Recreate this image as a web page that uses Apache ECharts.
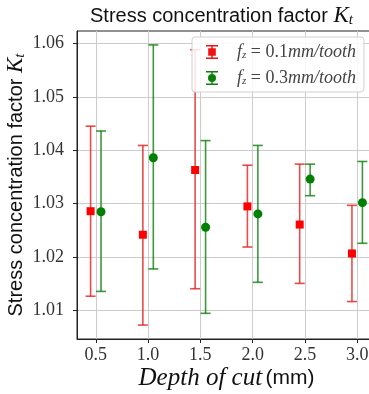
<!DOCTYPE html>
<html>
<head>
<meta charset="utf-8">
<script src="https://cdn.jsdelivr.net/npm/echarts@6/dist/echarts.min.js"></script>
<style>
  html, body { margin: 0; padding: 0; background: #fff; }
  #chart { width: 369px; height: 394px; }
</style>
</head>
<body>
<div id="chart"></div>
<script>
// depth of cut positions (red shifted -0.05, green +0.05)
const depths = [0.5, 1.0, 1.5, 2.0, 2.5, 3.0]
const xTicks = [0.5, 1.0, 1.5, 2.0, 2.5, 3.0]
const yTicks = [1.01, 1.02, 1.03, 1.04, 1.05, 1.06]

// f_z = 0.1 mm/tooth
const redMean = [1.0286, 1.0242, 1.0363, 1.0295, 1.0261, 1.0207]
const redLow = [1.0127, 1.0073, 1.0141, 1.0219, 1.0151, 1.0117]
const redHigh = [1.0445, 1.0409, 1.0588, 1.0372, 1.0374, 1.0297]

// f_z = 0.3 mm/tooth
const greenMean = [1.0285, 1.0386, 1.0256, 1.0281, 1.0346, 1.0302]
const greenLow = [1.0136, 1.0178, 1.0095, 1.0153, 1.0315, 1.0226]
const greenHigh = [1.0436, 1.0597, 1.0418, 1.0409, 1.0374, 1.0379]

const offset = 0.05
const redX = depths.map(d => d - offset)
const greenX = depths.map(d => d + offset)

const serif = 'Liberation Serif'
const sans = 'Liberation Sans'

function errorSeries(name, xs, low, high, color) {
  return {
    type: 'custom',
    name: name,
    data: xs.map((x, i) => [x, low[i], high[i]]),
    z: 2,
    renderItem: (params, api) => {
      const lo = api.coord([api.value(0), api.value(1)])
      const hi = api.coord([api.value(0), api.value(2)])
      const cap = 5
      const style = { stroke: color, lineWidth: 1.6 }
      return {
        type: 'group',
        children: [
          { type: 'line', shape: { x1: lo[0], y1: lo[1], x2: hi[0], y2: hi[1] }, style },
          { type: 'line', shape: { x1: lo[0] - cap, y1: lo[1], x2: lo[0] + cap, y2: lo[1] }, style },
          { type: 'line', shape: { x1: hi[0] - cap, y1: hi[1], x2: hi[0] + cap, y2: hi[1] }, style },
        ],
      }
    },
  }
}

const redIcon = 'path://M0 0h12v1.4h-12zM5.3 0h1.4v14h-1.4zM0 12.6h12v1.4h-12zM2.2 3.2h7.6v7.6h-7.6z'
const greenIcon = 'path://M0 0h12v1.4h-12zM5.3 0h1.4v14h-1.4zM0 12.6h12v1.4h-12zM6 3A4 4 0 1 1 6 11A4 4 0 1 1 6 3Z'

const titleRich = {
  a: { fontFamily: sans, fontWeight: 'normal', fontSize: 20, color: '#111' },
  k: { fontFamily: serif, fontWeight: 'normal', fontStyle: 'italic', fontSize: 23, color: '#111' },
  t: { fontFamily: serif, fontWeight: 'normal', fontStyle: 'italic', fontSize: 15, color: '#111', verticalAlign: 'bottom', padding: [9, 0, 0, 0] },
}

const chart = echarts.init(document.getElementById('chart'))
chart.setOption({
  animation: false,
  title: {
    text: '{a|Stress concentration factor }{k|K}{t|t}',
    left: 85,
    top: -1,
    textStyle: { fontWeight: 'normal', rich: titleRich },
  },
  legend: {
    orient: 'vertical',
    left: 192,
    top: 37,
    padding: [6, 8, 5, 14],
    itemGap: 8,
    itemWidth: 12,
    itemHeight: 15,
    backgroundColor: 'rgba(255,255,255,0.85)',
    borderColor: '#d0d0d0',
    borderWidth: 1,
    borderRadius: 3,
    data: [
      { name: 'f01', icon: redIcon, itemStyle: { color: '#ee1111' } },
      { name: 'f03', icon: greenIcon, itemStyle: { color: '#0a800a' } },
    ],
    formatter: name => {
      const v = name === 'f01' ? '0.1' : '0.3'
      return '{i|f}{s|z}{n| = ' + v + '}{i|mm/tooth}'
    },
    textStyle: {
      padding: [0, 0, 0, 14],
      rich: {
        i: { fontFamily: serif, fontStyle: 'italic', fontSize: 18, color: '#444' },
        s: { fontFamily: serif, fontStyle: 'italic', fontSize: 11, color: '#444', padding: [7, 0, 0, 0] },
        n: { fontFamily: serif, fontSize: 18, color: '#444' },
      },
    },
  },
  grid: {
    left: 77,
    right: -7,
    top: 31,
    bottom: 55,
    outerBoundsMode: 'none',
    containLabel: false,
    show: true,
    borderColor: '#222',
    borderWidth: 1,
  },
  xAxis: {
    type: 'value',
    min: 0.32,
    max: 3.18,
    name: '{i|Depth of cut} {n|(mm)}',
    nameLocation: 'middle',
    nameGap: 27,
    nameMoveOverlap: false,
    nameTextStyle: {
      rich: {
        i: { fontFamily: serif, fontStyle: 'italic', fontSize: 25, color: '#111' },
        n: { fontFamily: sans, fontSize: 21, color: '#111' },
      },
    },
    axisLine: { show: true, lineStyle: { color: '#222' } },
    axisTick: { show: true, length: 4, customValues: xTicks, lineStyle: { color: '#222' } },
    axisLabel: { customValues: xTicks, formatter: v => v.toFixed(1), fontFamily: serif, fontSize: 18, color: '#333', margin: 7 },
    splitLine: { show: true, lineStyle: { color: '#cccccc', width: 1 } },
  },
  yAxis: {
    type: 'value',
    min: 1.0047,
    max: 1.0623,
    name: '{a|Stress concentration factor }{k|K}{t|t}',
    nameLocation: 'middle',
    nameRotate: 90,
    nameGap: 49,
    nameMoveOverlap: false,
    nameTextStyle: { rich: titleRich },
    axisLine: { show: true, lineStyle: { color: '#222' } },
    axisTick: { show: true, length: 4, customValues: yTicks, lineStyle: { color: '#222' } },
    axisLabel: { customValues: yTicks, formatter: v => v.toFixed(2), fontFamily: serif, fontSize: 18, color: '#333', margin: 13 },
    splitLine: { show: true, lineStyle: { color: '#cccccc', width: 1 } },
  },
  series: [
    errorSeries('errRed', redX, redLow, redHigh, 'rgba(228,30,30,0.8)'),
    errorSeries('errGreen', greenX, greenLow, greenHigh, 'rgba(10,128,10,0.8)'),
    {
      type: 'scatter',
      name: 'f01',
      data: redX.map((x, i) => [x, redMean[i]]),
      symbol: 'rect',
      symbolSize: 8,
      itemStyle: { color: '#ff0000', opacity: 1 },
      z: 3,
    },
    {
      type: 'scatter',
      name: 'f03',
      data: greenX.map((x, i) => [x, greenMean[i]]),
      symbol: 'circle',
      symbolSize: 9,
      itemStyle: { color: '#008000', opacity: 1 },
      z: 3,
    },
  ],
})
</script>
</body>
</html>
